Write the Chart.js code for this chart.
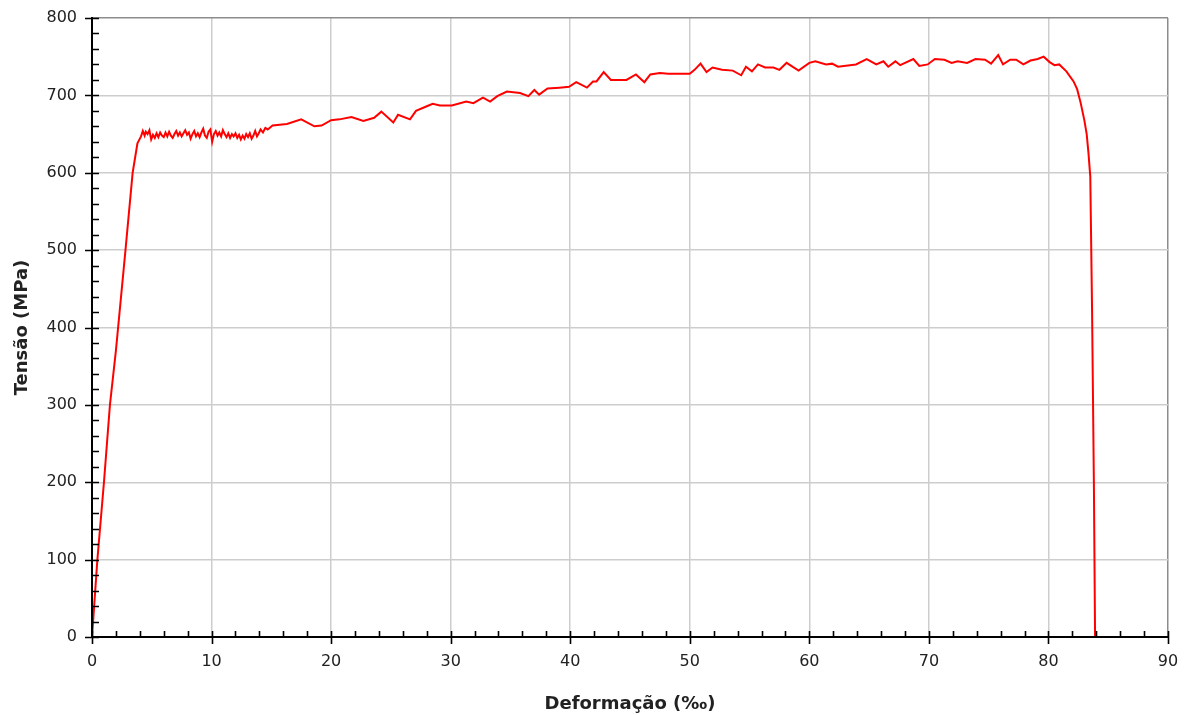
<!DOCTYPE html>
<html lang="pt">
<head>
    <meta charset="UTF-8" />
    <title>Tensão x Deformação</title>
    <style>
        html, body {
            margin: 0;
            padding: 0;
            background: #ffffff;
            overflow: hidden;
        }
        .chart-container {
            position: relative;
            width: 1185px;
            height: 715px;
        }
    </style>
    <script src="https://cdn.jsdelivr.net/npm/chart.js"></script>
</head>
<body>
    <div class="chart-container">
        <canvas id="stress-chart"></canvas>
    </div>
    <script>
        // values
        const strain = [
            0, 0.45, 1.0, 1.5, 2.0, 2.8, 3.4, 3.8,
            4.1, 4.25, 4.4, 4.5, 4.65, 4.8, 4.95, 5.1, 5.25, 5.4,
            5.55, 5.7, 5.85, 6.0, 6.15, 6.3, 6.45, 6.6, 6.75, 6.9,
            7.05, 7.2, 7.35, 7.5, 7.65, 7.8, 7.95, 8.1, 8.25, 8.4,
            8.55, 8.7, 8.85, 9.0, 9.15, 9.3, 9.45, 9.6, 9.75, 9.9,
            10.05, 10.2, 10.35, 10.5, 10.65, 10.8, 10.95, 11.1, 11.25, 11.4,
            11.55, 11.7, 11.85, 12.0, 12.15, 12.3, 12.45, 12.6, 12.75, 12.9,
            13.05, 13.2, 13.35, 13.5, 13.65, 13.8, 13.95, 14.1, 14.3, 14.5,
            14.7, 15.1,
            16.3, 17.5, 18.6, 19.2, 20.0, 20.7, 21.7, 22.7, 23.6, 24.2, 25.2, 25.6,
            26.6, 27.1, 28.0, 28.5, 29.1, 30.1, 31.3, 31.9, 32.7, 33.3, 33.9, 34.7,
            35.8, 36.5, 37.0, 37.4, 38.1, 39.1, 39.9, 40.5, 41.4, 41.9, 42.2, 42.8,
            43.4, 44.7, 45.5, 46.2, 46.7, 47.5, 48.2, 50.0, 50.4, 50.9, 51.4, 51.9,
            52.7, 53.6, 54.3, 54.7, 55.2, 55.7, 56.3, 57.0, 57.5, 58.1, 59.1, 60.0,
            60.5, 61.4, 61.9, 62.4, 63.9, 64.8, 65.6, 66.2, 66.6, 67.2, 67.6, 68.7,
            69.2, 69.9, 70.5, 71.3, 71.9, 72.4, 73.2, 73.9, 74.7, 75.2, 75.8, 76.2,
            76.8, 77.3, 77.9, 78.5, 79.1, 79.6, 80.1, 80.5, 80.9, 81.5, 82.1, 82.4,
            82.7, 83.0, 83.2, 83.35, 83.5, 83.65, 83.8, 83.9
        ];
        const stress = [
            0, 100, 200, 300, 370, 500, 600, 638,
            647, 654, 648, 653, 650, 655, 643, 649, 645, 651,
            646, 652, 648, 646, 652, 647, 653, 648, 645, 650,
            654, 648, 652, 647, 651, 655, 649, 652, 644, 650,
            654, 647, 651, 646, 652, 657, 648, 645, 653, 656,
            640, 650, 654, 648, 652, 647, 655, 650, 646, 651,
            645, 650, 647, 651, 645, 649, 643, 648, 644, 650,
            646, 651, 644, 648, 654, 647, 651, 656, 652, 658,
            656, 661,
            663, 669, 660, 661, 668, 669, 672, 667, 671, 679, 665, 675,
            669, 680, 686, 689, 687, 687, 692, 690, 697, 692, 699, 705,
            703, 699, 707, 701, 709, 710, 711, 717, 710, 718, 718, 730,
            720, 720, 727, 717, 727, 729, 728, 728, 733, 741, 730, 736,
            733, 732, 726, 737, 731, 740, 736, 736, 733, 742, 732, 742,
            744, 740, 741, 737, 740, 747, 740, 744, 737, 744, 739, 747,
            738, 740, 747, 746, 742, 744, 742, 747, 746, 741, 752, 740,
            746, 746, 740, 745, 747, 750, 743, 739, 740, 731, 718, 708,
            690, 668, 650, 625, 595, 420, 200, 0
        ];
        const xTicks = [0, 10, 20, 30, 40, 50, 60, 70, 80, 90];
        const yTicks = [0, 100, 200, 300, 400, 500, 600, 700, 800];

        const points = strain.map((x, i) => ({ x: x, y: stress[i] }));

        // black axes with crossing major ticks and inward minor ticks
        const axesPlugin = {
            id: 'axesPlugin',
            afterDraw(chart) {
                const ctx = chart.ctx;
                const xs = chart.scales.x;
                const ys = chart.scales.y;
                const left = xs.left, bottom = ys.bottom;
                ctx.save();
                ctx.strokeStyle = '#000';
                ctx.lineWidth = 2;
                ctx.beginPath();
                ctx.moveTo(left, ys.top - 1);
                ctx.lineTo(left, bottom);
                ctx.lineTo(xs.right + 1, bottom);
                ctx.stroke();
                ctx.lineWidth = 1.6;
                ctx.beginPath();
                for (let v = 0; v <= 90; v += 2) {
                    const px = Math.round(xs.getPixelForValue(v)) + 0.5;
                    const major = v % 10 === 0;
                    ctx.moveTo(px, bottom - 6);
                    ctx.lineTo(px, major ? bottom + 7 : bottom);
                }
                for (let v = 0; v <= 800; v += 20) {
                    const py = Math.round(ys.getPixelForValue(v)) + 0.5;
                    const major = v % 100 === 0;
                    ctx.moveTo(major ? left - 7 : left, py);
                    ctx.lineTo(left + 7, py);
                }
                ctx.stroke();
                ctx.restore();
            }
        };

        const gridColor = (max) => (c) => (c.tick && c.tick.value === max ? '#8c8c8c' : '#cdcdcd');
        const tickFont = { family: 'DejaVu Sans', size: 16 };
        const titleFont = { family: 'DejaVu Sans', size: 18, weight: 'bold' };

        new Chart(document.getElementById('stress-chart'), {
            type: 'line',
            data: {
                datasets: [{
                    data: points,
                    borderColor: '#ff0000',
                    borderWidth: 2,
                    pointRadius: 0,
                    tension: 0,
                    fill: false
                }]
            },
            options: {
                responsive: true,
                maintainAspectRatio: false,
                animation: false,
                layout: { padding: { top: 18, right: 17, left: 0, bottom: 0 } },
                plugins: {
                    legend: { display: false },
                    tooltip: { enabled: false }
                },
                scales: {
                    x: {
                        type: 'linear',
                        min: 0,
                        max: 90,
                        afterBuildTicks: (s) => { s.ticks = xTicks.map(v => ({ value: v })); },
                        afterFit: (s) => {
                            s.height = 78;
                            s.paddingLeft = 0;
                            s.paddingRight = 0;
                        },
                        ticks: {
                            color: '#222',
                            padding: 15,
                            maxRotation: 0,
                            font: tickFont
                        },
                        grid: { color: gridColor(90), lineWidth: 1.5, drawTicks: false },
                        border: { display: false },
                        title: {
                            display: true,
                            text: 'Deformação (‰)',
                            color: '#222',
                            padding: { top: 0, bottom: 0 },
                            font: titleFont
                        }
                    },
                    y: {
                        min: 0,
                        max: 800,
                        afterBuildTicks: (s) => { s.ticks = yTicks.map(v => ({ value: v })); },
                        afterFit: (s) => {
                            s.width = 92;
                            s.paddingTop = 0;
                            s.paddingBottom = 0;
                        },
                        ticks: {
                            color: '#222',
                            padding: 15,
                            font: tickFont
                        },
                        grid: { color: gridColor(800), lineWidth: 1.5, drawTicks: false },
                        border: { display: false },
                        title: {
                            display: true,
                            text: 'Tensão (MPa)',
                            color: '#222',
                            padding: { top: 12, bottom: 0 },
                            font: titleFont
                        }
                    }
                }
            },
            plugins: [axesPlugin]
        });
    </script>
</body>
</html>
